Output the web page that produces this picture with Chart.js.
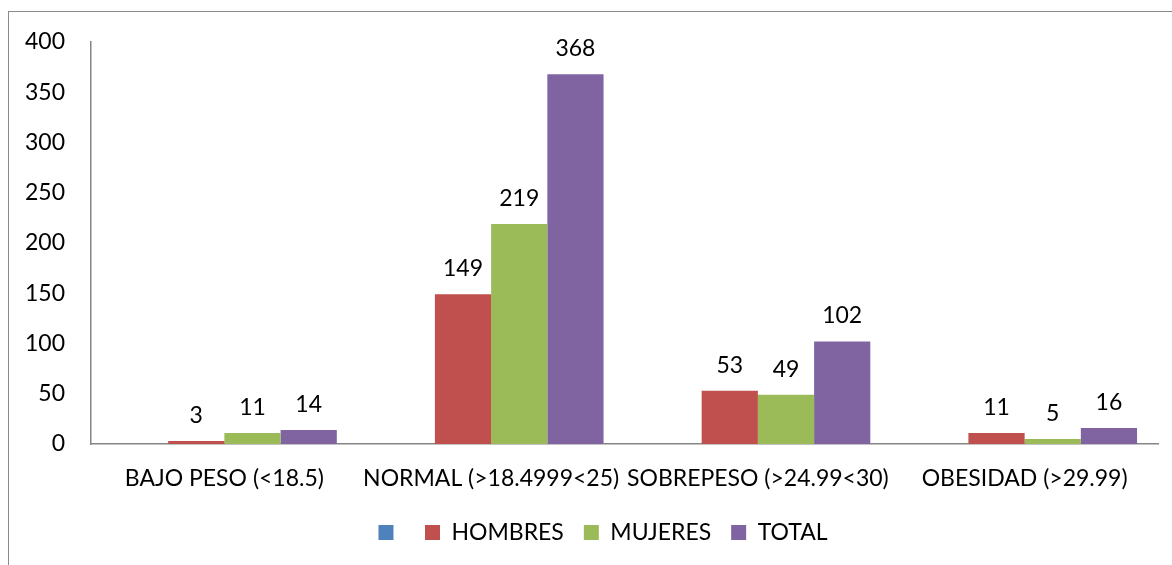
<!DOCTYPE html>
<html><head><meta charset="utf-8">
<script src="https://cdn.jsdelivr.net/npm/chart.js@4.4.0/dist/chart.umd.min.js"></script>
<style>
html,body{margin:0;padding:0;background:#fff;overflow:hidden;width:1172px;height:565px;}
#frame{position:absolute;left:8px;top:11px;width:1300px;height:700px;border:1.5px solid #8a8a8a;box-sizing:border-box}
#wrap{position:absolute;left:0;top:0;width:1172px;height:565px}
</style></head><body>
<div id="frame"></div>
<div id="wrap"><canvas id="c" width="1172" height="565"></canvas></div>
<script>
const categories = ['BAJO PESO (<18.5)', 'NORMAL (>18.4999<25)', 'SOBREPESO (>24.99<30)', 'OBESIDAD (>29.99)'];
const serieVacia = [null, null, null, null];
const hombres = [3, 149, 53, 11];
const mujeres = [11, 219, 49, 5];
const total = [14, 368, 102, 16];
const yTicks = [0, 50, 100, 150, 200, 250, 300, 350, 400];

const FONT_SIZE = 23;
Chart.defaults.font.family = 'Lato';
Chart.defaults.font.size = FONT_SIZE;
Chart.defaults.color = '#000';

const labelPlugin = {
  id: 'valueLabels',
  afterDatasetsDraw(chart) {
    const ctx = chart.ctx;
    ctx.save();
    ctx.font = FONT_SIZE + 'px Lato';
    ctx.fillStyle = '#000';
    ctx.textAlign = 'center';
    ctx.textBaseline = 'alphabetic';
    chart.data.datasets.forEach((ds, di) => {
      const meta = chart.getDatasetMeta(di);
      meta.data.forEach((el, i) => {
        const v = ds.data[i];
        if (v === null || v === undefined) return;
        ctx.fillText(String(v), el.x, el.y - 18);
      });
    });
    ctx.restore();
  }
};

// shift the legend so it is centred like the original (wider) chart frame
const legendShift = {
  id: 'legendShift',
  afterLayout(chart) {
    if (chart.legend) {
      chart.legend.left += 14;
      chart.legend.right += 14;
    }
  }
};

new Chart(document.getElementById('c'), {
  type: 'bar',
  data: {
    labels: categories,
    datasets: [
      { label: '', data: serieVacia, backgroundColor: '#4F81BD' },
      { label: 'HOMBRES', data: hombres, backgroundColor: '#C0504D' },
      { label: 'MUJERES', data: mujeres, backgroundColor: '#9BBB59' },
      { label: 'TOTAL', data: total, backgroundColor: '#8064A2' }
    ]
  },
  options: {
    responsive: false,
    animation: false,
    devicePixelRatio: 1,
    datasets: { bar: { categoryPercentage: 0.843, barPercentage: 1.0 } },
    layout: { padding: { left: 20, right: 14, top: 42, bottom: 11 } },
    plugins: {
      tooltip: { enabled: false },
      legend: {
        position: 'bottom',
        labels: { boxWidth: 15, boxHeight: 15, padding: 20, font: { size: FONT_SIZE }, color: '#000' }
      }
    },
    scales: {
      x: {
        grid: { display: false, drawTicks: false },
        border: { display: true, color: '#868686', width: 1.5 },
        ticks: { padding: 21, maxRotation: 0, autoSkip: false },
        afterFit(s) { s.height = 57; }
      },
      y: {
        min: 0, max: 400,
        grid: { display: false, drawTicks: false },
        border: { display: true, color: '#868686', width: 1.5 },
        ticks: { padding: 26, stepSize: 50 },
        afterBuildTicks(s) { s.ticks = yTicks.map(v => ({ value: v })); },
        afterFit(s) { s.width = 71; }
      }
    }
  },
  plugins: [labelPlugin, legendShift]
});
</script>
</body></html>
